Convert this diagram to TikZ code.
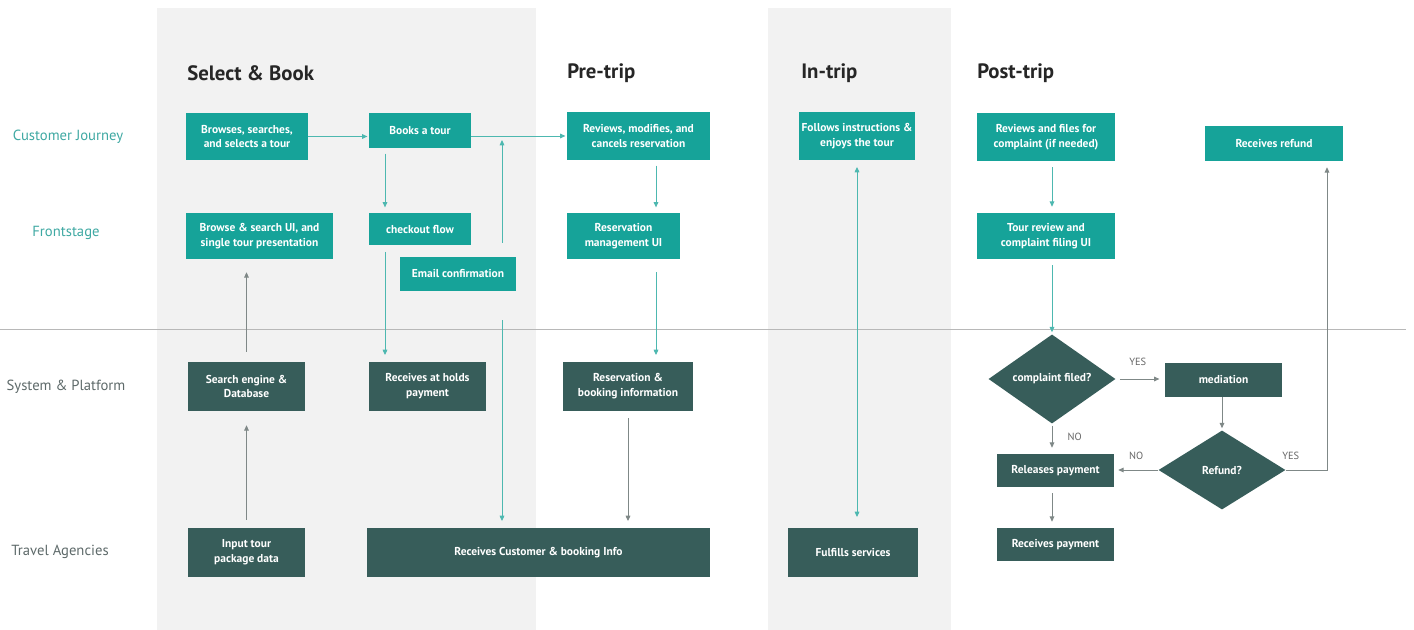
\documentclass[tikz,border=0pt]{standalone}
\usepackage{fontspec}
\setmainfont{PT Sans}
\usetikzlibrary{arrows.meta,shapes.geometric,calc}

\definecolor{tealbox}{HTML}{16A399}
\definecolor{darkbox}{HTML}{375D5A}
\definecolor{tealline}{HTML}{4DB8B0}
\definecolor{grayline}{HTML}{7F8887}
\definecolor{bandgray}{HTML}{F2F2F2}
\definecolor{lanetealc}{HTML}{3FA9A3}
\definecolor{lanegrayc}{HTML}{5E6A6A}

\tikzset{
  boxtext/.style={font=\fontsize{8.6}{11.2}\selectfont\bfseries, text=white, align=center, inner sep=0pt},
  tbox/.style={boxtext, fill=tealbox},
  dbox/.style={boxtext, fill=darkbox},
  ddia/.style={boxtext, fill=darkbox, diamond},
  phase/.style={font=\fontsize{15.6}{18}\selectfont\bfseries, text=black!85, anchor=west, inner sep=0pt},
  laneteal/.style={font=\fontsize{11}{13}\selectfont, text=lanetealc},
  lanegray/.style={font=\fontsize{11}{13}\selectfont, text=lanegrayc},
  tarrow/.style={draw=tealline, line width=0.7pt, -{Triangle[length=4pt,width=3.5pt]}},
  garrow/.style={draw=grayline, line width=0.7pt, -{Triangle[length=4pt,width=3.5pt]}},
  ans/.style={font=\fontsize{7.8}{9}\selectfont, text=black!60},
}

\begin{document}
\begin{tikzpicture}[x=0.75pt,y=-0.75pt]
  % canvas
  \fill[white] (0,0) rectangle (1414,630);
  \useasboundingbox (0,0) rectangle (1414,630);

  % phase bands
  \fill[bandgray] (157,8) rectangle (536,630);
  \fill[bandgray] (768,8) rectangle (951,630);

  % lane separator
  \draw[draw=black!28, line width=0.6pt] (0,329) -- (1406,329);

  % phase headings
  \node[phase] (hsel)  at (187,73) {Select \& Book};
  \node[phase] (hpre)  at (567,73) {Pre-trip};
  \node[phase] (hin)   at (801,73) {In-trip};
  \node[phase] (hpost) at (977,73) {Post-trip};

  % lane titles
  \node[laneteal] (lcj) at (68,137) {Customer Journey};
  \node[laneteal] (lfs) at (66,233) {Frontstage};
  \node[lanegray] (lsp) at (66,387) {System \& Platform};
  \node[lanegray] (lta) at (60,552) {Travel Agencies};

  % customer journey
  \node[tbox, minimum width=91.5pt,  minimum height=35.25pt] (b1) at (247,136.5) {Browses, searches,\\and selects a tour};
  \node[tbox, minimum width=76.5pt,  minimum height=26.25pt] (b2) at (420,130.5) {Books a tour};
  \node[tbox, minimum width=107.25pt,minimum height=36pt]    (b3) at (638.5,136) {Reviews, modifies, and\\cancels reservation};
  \node[tbox, minimum width=87pt,    minimum height=36pt]    (b4) at (857,136) {Follows instructions \&\\enjoys the tour};
  \node[tbox, minimum width=103.5pt, minimum height=36pt]    (b5) at (1046,137) {Reviews and files for\\complaint (if needed)};
  \node[tbox, minimum width=103.5pt, minimum height=26.25pt] (b6) at (1274,143.5) {Receives refund};

  % frontstage
  \node[tbox, minimum width=110.25pt,minimum height=34.5pt] (f1) at (259.5,236) {Browse \& search UI, and\\single tour presentation};
  \node[tbox, minimum width=76.5pt,  minimum height=24pt]   (f2) at (420,229) {checkout flow};
  \node[tbox, minimum width=87pt,    minimum height=25.5pt] (f3) at (458,274) {Email confirmation};
  \node[tbox, minimum width=84.75pt, minimum height=34.5pt] (f4) at (623.5,236) {Reservation\\management UI};
  \node[tbox, minimum width=103.5pt, minimum height=34.5pt] (f5) at (1046,236) {Tour review and\\complaint filing UI};

  % system & platform
  \node[dbox, minimum width=87.75pt, minimum height=36.75pt] (s1) at (246.5,386.5) {Search engine \&\\Database};
  \node[dbox, minimum width=87.75pt, minimum height=36.75pt] (s2) at (427.5,386.5) {Receives at holds\\payment};
  \node[dbox, minimum width=97.5pt,  minimum height=36.75pt] (s3) at (628,386.5) {Reservation \&\\booking information};
  \node[ddia, minimum width=95.25pt, minimum height=58.5pt]  (d1) at (1052,379) {complaint filed?};
  \node[dbox, minimum width=87.75pt, minimum height=25.5pt]  (m)  at (1223.5,380) {mediation};
  \node[ddia, minimum width=95.25pt, minimum height=59.25pt] (d2) at (1222,470) {Refund?};
  \node[dbox, minimum width=87.75pt, minimum height=24.75pt] (r)  at (1055.5,470.5) {Releases payment};

  % travel agencies
  \node[dbox, minimum width=87.75pt, minimum height=36.75pt] (t1) at (246.5,552.5) {Input tour\\package data};
  \node[dbox, minimum width=257.25pt,minimum height=36.75pt] (t2) at (538.5,552.5) {Receives Customer \& booking Info};
  \node[dbox, minimum width=97.5pt,  minimum height=36.75pt] (t3) at (853,552.5) {Fulfills services};
  \node[dbox, minimum width=87.75pt, minimum height=24.75pt] (rp) at (1055.5,544.5) {Receives payment};

  % select & book flow
  \draw[tarrow, shorten >=1pt] (b1.east) -- (b1.east -| b2.west);
  \draw[tarrow, shorten >=1pt] (b2.east |- b3.west) -- (b3.west);
  \draw[tarrow, shorten <=4pt, shorten >=4pt] ([xshift=-26.25pt]b2.south) -- ([xshift=-26.25pt]b2.south |- f2.north);
  \draw[tarrow, shorten <=5pt, shorten >=5pt] ([xshift=-26.25pt]f2.south) -- ([xshift=-26.25pt]f2.south |- s2.north);
  \draw[tarrow, shorten <=10.5pt, shorten >=3pt] ([xshift=33pt]f3.north) -- ([xshift=33pt]f3.north |- b3.west);
  \draw[tarrow, shorten <=21.75pt, shorten >=5pt] ([xshift=33pt]f3.south) -- ([xshift=33pt]f3.south |- t2.north);
  \draw[garrow, shorten <=7.5pt, shorten >=9.75pt] (s1.north) -- (s1.north |- f1.south);
  \draw[garrow, shorten <=6pt, shorten >=10.5pt] (t1.north) -- (s1.south);

  % pre-trip flow
  \draw[tarrow, shorten <=4pt, shorten >=4pt] ([xshift=13.125pt]b3.south) -- ([xshift=13.125pt]b3.south |- f4.north);
  \draw[tarrow, shorten <=9.75pt, shorten >=5pt] ([xshift=24.375pt]f4.south) -- ([xshift=24.375pt]f4.south |- s3.north);
  \draw[garrow, shorten <=5.25pt, shorten >=5pt] (s3.south) -- (s3.south |- t2.north);

  % in-trip flow
  \draw[tarrow, {Triangle[length=4pt,width=3.5pt]}-{Triangle[length=4pt,width=3.5pt]}, shorten <=5pt, shorten >=8pt] (b4.south) -- (b4.south |- t3.north);

  % post-trip flow
  \draw[tarrow, shorten <=4.5pt, shorten >=4.5pt] (b5.south -| d1.north) -- (f5.north -| d1.north);
  \draw[tarrow, shorten <=4.5pt, shorten >=1.5pt] (f5.south -| d1.north) -- (d1.north);
  \draw[garrow, shorten <=3pt, shorten >=4pt] (d1.east) -- (d1.east -| m.west)
    node[ans, pos=0.45, above=6pt] (yes1) {YES};
  \draw[garrow, shorten <=1.5pt, shorten >=4.5pt] (d1.south) -- (d1.south |- r.north)
    node[ans, pos=0.45, right=8pt] (no1) {NO};
  \draw[garrow, shorten >=1.5pt] (m.south -| d2.north) -- (d2.north);
  \draw[garrow, shorten >=3pt] (d2.west) -- (d2.west -| r.east)
    node[ans, pos=0.5, above=4pt] (no2) {NO};
  \draw[garrow, shorten >=4.5pt] (d2.east) -| ([xshift=39.75pt]b6.south)
    node[ans, pos=0.06, above=4pt] (yes2) {YES};
  \draw[garrow, shorten <=4.5pt, shorten >=4.5pt] (r.south -| d1.south) -- (rp.north -| d1.south);
\end{tikzpicture}
\end{document}
